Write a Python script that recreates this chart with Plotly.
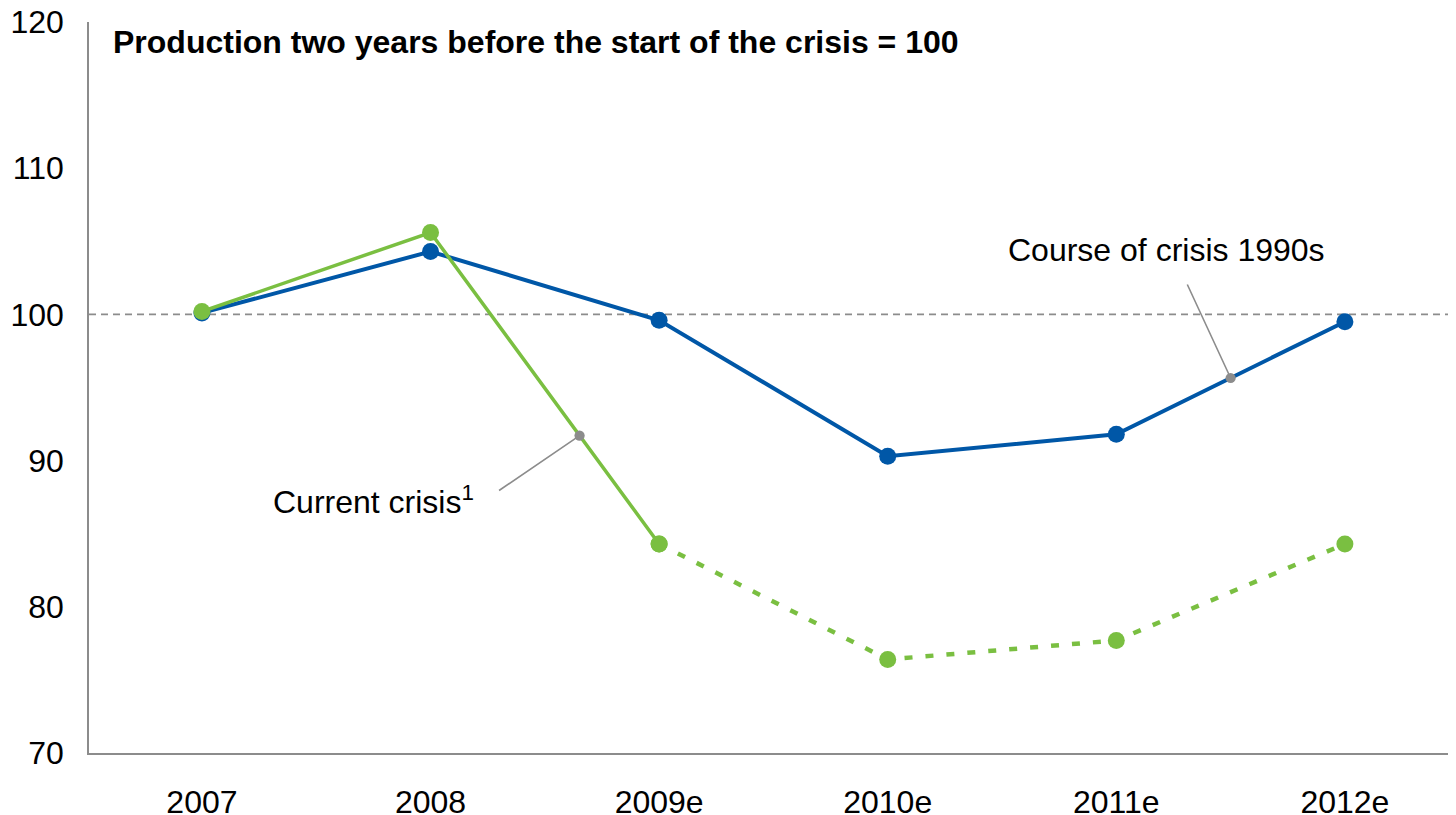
import plotly.graph_objects as go

categories = ["2007", "2008", "2009e", "2010e", "2011e", "2012e"]
crisis_1990s = [100.1, 104.3, 99.6, 90.3, 91.8, 99.5]
current_crisis = [100.2, 105.6, 84.3, 76.4, 77.7, 84.3]
yticks = [70, 80, 90, 100, 110, 120]

BLUE = "#0057A7"
GREEN = "#7ABF41"
GREY = "#8C8C8C"
FONT = "Liberation Sans, Arial, sans-serif"

xi = list(range(len(categories)))
fig = go.Figure()

# blue series
fig.add_trace(go.Scatter(x=xi, y=crisis_1990s, mode="lines+markers",
                         line=dict(color=BLUE, width=4),
                         marker=dict(color=BLUE, size=17), showlegend=False))
# green solid part (actual)
fig.add_trace(go.Scatter(x=xi[:3], y=current_crisis[:3], mode="lines+markers",
                         line=dict(color=GREEN, width=3.5),
                         marker=dict(color=GREEN, size=17), showlegend=False))
# green dotted part (estimates)
fig.add_trace(go.Scatter(x=xi[2:], y=current_crisis[2:], mode="lines+markers",
                         line=dict(color=GREEN, width=4.5, dash="8px,13px"),
                         marker=dict(color=GREEN, size=17), showlegend=False))

def along(series, i, f):
    return i + f, series[i] + f * (series[i + 1] - series[i])

# leader lines with dot ends
cx, cy = along(current_crisis, 1, 0.652)
bx, by = along(crisis_1990s, 4, 0.5)
for (px, py, ax, ay) in [(cx, cy, -82, 56), (bx, by, -44, -95)]:
    fig.add_annotation(x=px, y=py, text="", showarrow=True, ax=ax, ay=ay,
                       arrowhead=6, arrowsize=1.6, arrowwidth=1.6,
                       arrowcolor=GREY, standoff=0, startstandoff=0)

fig.add_annotation(x=1.199, y=87.3, text="Current crisis<sup>1</sup>", showarrow=False,
                   xanchor="right", yanchor="middle",
                   font=dict(family=FONT, size=32, color="#000000"))
fig.add_annotation(x=4.22, y=104.4, text="Course of crisis 1990s", showarrow=False,
                   xanchor="center", yanchor="middle",
                   font=dict(family=FONT, size=32, color="#000000"))

# title
fig.add_annotation(xref="paper", yref="paper", x=0.0161, y=0.973,
                   text="<b>Production two years before the start of the crisis = 100</b>",
                   showarrow=False, xanchor="left", yanchor="middle",
                   font=dict(family=FONT, size=32, color="#000000"))

# dashed reference line at 100
fig.add_shape(type="line", xref="paper", yref="y", x0=0, x1=1, y0=100, y1=100,
              line=dict(color=GREY, width=1.6, dash="7px,5px"), layer="below")

# page body has an 8px default margin; compensate so the plot sits like the reference
fig.update_layout(
    width=1448, height=807,
    margin=dict(l=81, r=0, t=14, b=62),
    paper_bgcolor="white", plot_bgcolor="white",
    font=dict(family=FONT, size=32, color="#000000"),
    xaxis=dict(range=[-0.494, 5.486], tickvals=xi, ticktext=categories,
               showgrid=False, zeroline=False, showline=True, linecolor=GREY,
               linewidth=1.6, ticks="", ticklabelstandoff=20, automargin=False,
               ticklabeloverflow="allow"),
    yaxis=dict(range=[70, 120], tickvals=yticks, showgrid=False, zeroline=False,
               showline=True, linecolor=GREY, linewidth=1.6, ticks="",
               ticklabelstandoff=17, automargin=False, ticklabeloverflow="allow"),
)

fig.write_html("out.html")
